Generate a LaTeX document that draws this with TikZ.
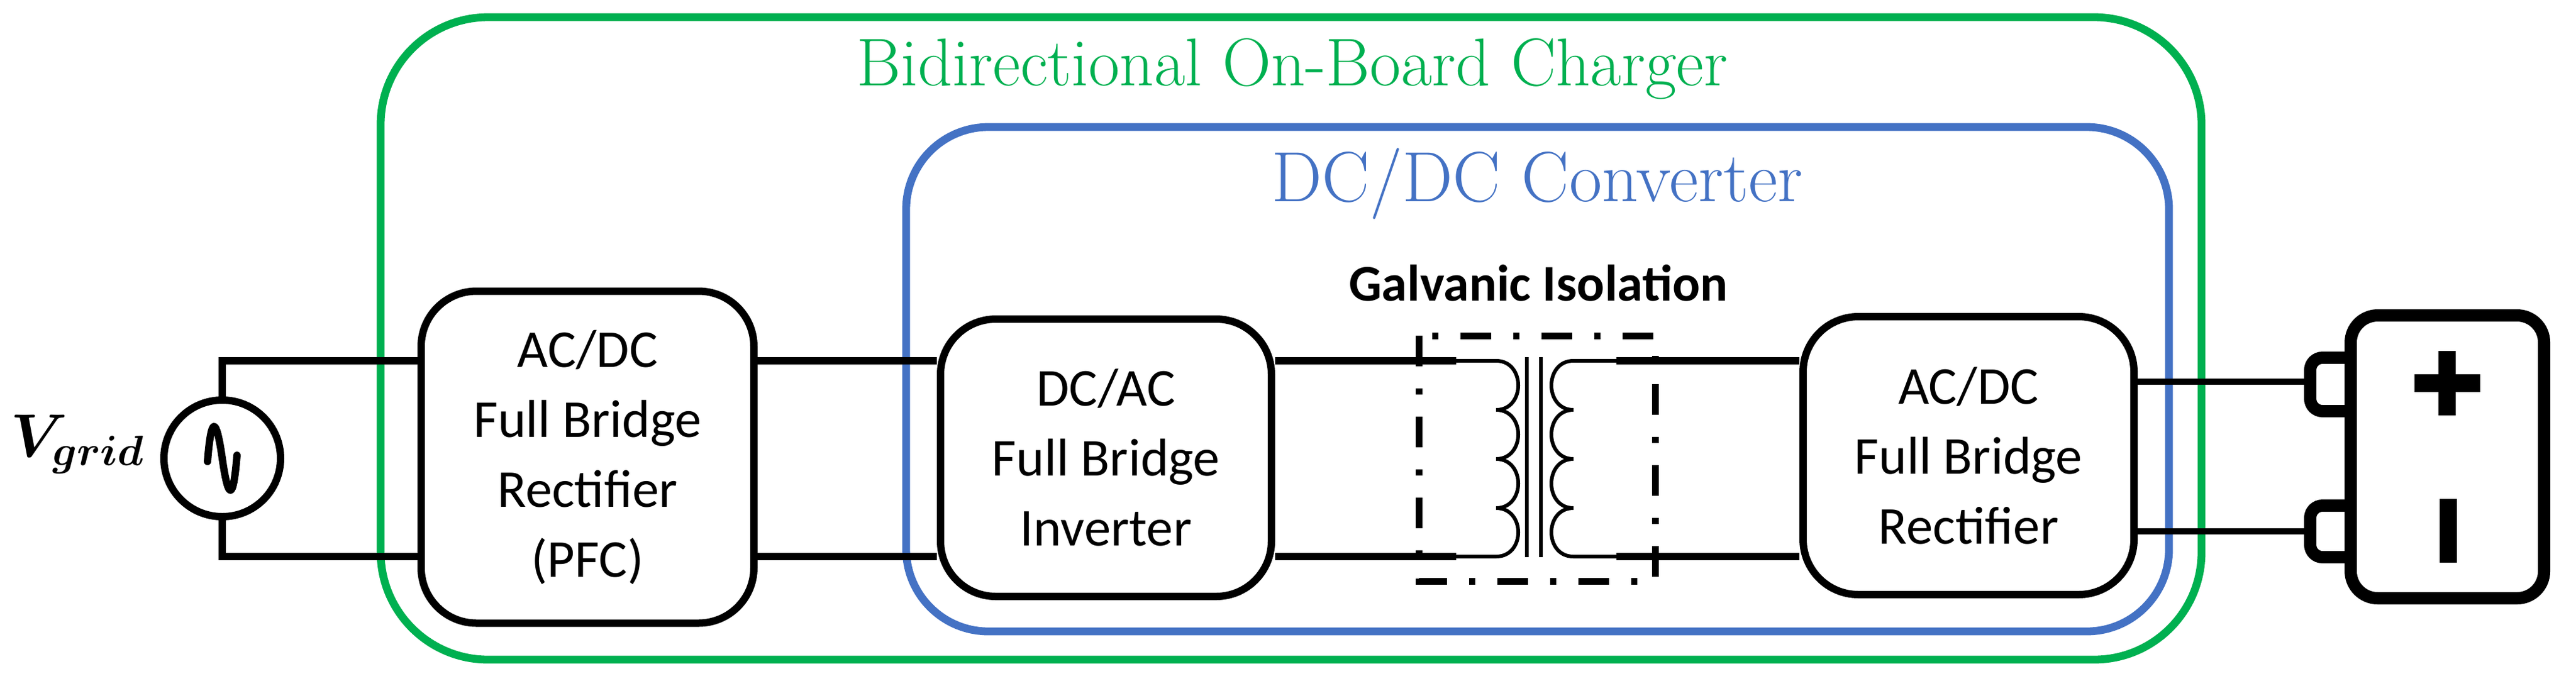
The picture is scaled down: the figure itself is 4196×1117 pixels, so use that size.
\documentclass[tikz,border=0pt]{standalone}
\usepackage{fontspec}
\setsansfont{Carlito}
\definecolor{obcgreen}{HTML}{00B050}
\definecolor{dcblue}{HTML}{4472C4}
\begin{document}
\begin{tikzpicture}[x=0.25pt,y=-0.25pt,
  block/.style={draw,line width=3pt,rounded corners=22.5pt,inner sep=0pt,align=center,
    font=\sffamily\fontsize{21.7}{28.5}\selectfont},
  wire/.style={line width=3pt},
  thinwire/.style={line width=1.5pt},
  battwire/.style={line width=2.5pt},
  clipline/.style={line width=5pt,rounded corners=5pt},
  iso/.style={line width=2.75pt,dash pattern=on 12.5pt off 9pt on 2.5pt off 9pt}]
\useasboundingbox (0,0) rectangle (4196,1117);
% enclosures
\draw[obcgreen,line width=3.2pt,rounded corners=43.75pt] (620,28) rectangle (3586,1075);
\draw[dcblue,line width=3.2pt,rounded corners=33.5pt] (1476,207) rectangle (3533,1029);
\node[obcgreen,anchor=base,font=\fontsize{27.5}{33}\selectfont] (t1) at (2105,139) {Bidirectional On-Board Charger};
\node[dcblue,anchor=base,font=\fontsize{29}{35}\selectfont] (t2) at (2504,328) {DC/DC Converter};
\node[anchor=base,font=\sffamily\bfseries\fontsize{21}{25}\selectfont] (t3) at (2506,490) {Galvanic Isolation};
% source
\node[draw,circle,line width=3pt,minimum size=47.5pt,inner sep=0pt] (src) at (362,747) {};
\draw[line width=3pt,line cap=round,line join=round] (338,752) .. controls (344,677) and (352,677) .. (362,747) .. controls (372,817) and (380,817) .. (386,742);
\node[anchor=base east,inner sep=0pt,font=\fontsize{23}{28}\selectfont] (vg) at (237,744) {{\boldmath$V_{grid}$}};
% blocks
\node[block,minimum width=135.5pt,minimum height=135.25pt] (b1) at (957,745) {AC/DC\\Full Bridge\\Rectifier\\(PFC)};
\node[block,minimum width=134.75pt,minimum height=113pt] (b2) at (1801.5,746) {DC/AC\\Full Bridge\\Inverter};
\node[block,minimum width=134.75pt,minimum height=113.25pt] (b3) at (3206.5,742.5) {AC/DC\\Full Bridge\\Rectifier};
\coordinate (yt) at (0,588);
\coordinate (yb) at (0,907);
\coordinate (prt) at (2372,588);
\coordinate (prb) at (2372,907);
\coordinate (sct) at (2633,588);
\coordinate (scb) at (2633,907);
% wires
\draw[wire] (src.north) |- (b1.west |- yt);
\draw[wire] (src.south) |- (b1.west |- yb);
\draw[wire] (b1.east |- yt) -- (b2.west |- yt);
\draw[wire] (b1.east |- yb) -- (b2.west |- yb);
\draw[wire] (b2.east |- yt) -- (prt);
\draw[wire] (b2.east |- yb) -- (prb);
\draw[wire] (sct) -- (b3.west |- yt);
\draw[wire] (scb) -- (b3.west |- yb);
% transformer
\draw[thinwire] (prt) -- (2437,588)
  .. controls (2485,588) and (2485,668) .. (2437,668)
  .. controls (2485,668) and (2485,748) .. (2437,748)
  .. controls (2485,748) and (2485,828) .. (2437,828)
  .. controls (2485,828) and (2485,907) .. (2437,907) -- (prb);
\draw[thinwire] (sct) -- (2563,588)
  .. controls (2515,588) and (2515,668) .. (2563,668)
  .. controls (2515,668) and (2515,748) .. (2563,748)
  .. controls (2515,748) and (2515,828) .. (2563,828)
  .. controls (2515,828) and (2515,907) .. (2563,907) -- (scb);
\draw[thinwire] (2487,582) -- (2487,908);
\draw[thinwire] (2510,582) -- (2510,908);
\draw[iso] (2311,547) rectangle (2696,947);
% battery
\node[draw,line width=5pt,rounded corners=11pt,minimum width=78.75pt,minimum height=115.25pt,inner sep=0pt] (bat) at (3986.5,744.5) {};
\coordinate (ct) at (3763,622);
\coordinate (cb) at (3763,866);
\coordinate (c1) at (0,583);
\coordinate (c2) at (0,670);
\coordinate (c3) at (0,824);
\coordinate (c4) at (0,908);
\draw[battwire] (b3.east |- ct) -- (ct);
\draw[battwire] (b3.east |- cb) -- (cb);
\draw[clipline] (bat.west |- c1) -- (3763,583) -- (3763,670) -- (bat.west |- c2);
\draw[clipline] (bat.west |- c3) -- (3763,824) -- (3763,908) -- (bat.west |- c4);
\fill (3933,610) rectangle (4040,639);
\fill (3972,572) rectangle (4000,677);
\fill (3974,813) rectangle (4002,917);
\end{tikzpicture}
\end{document}
